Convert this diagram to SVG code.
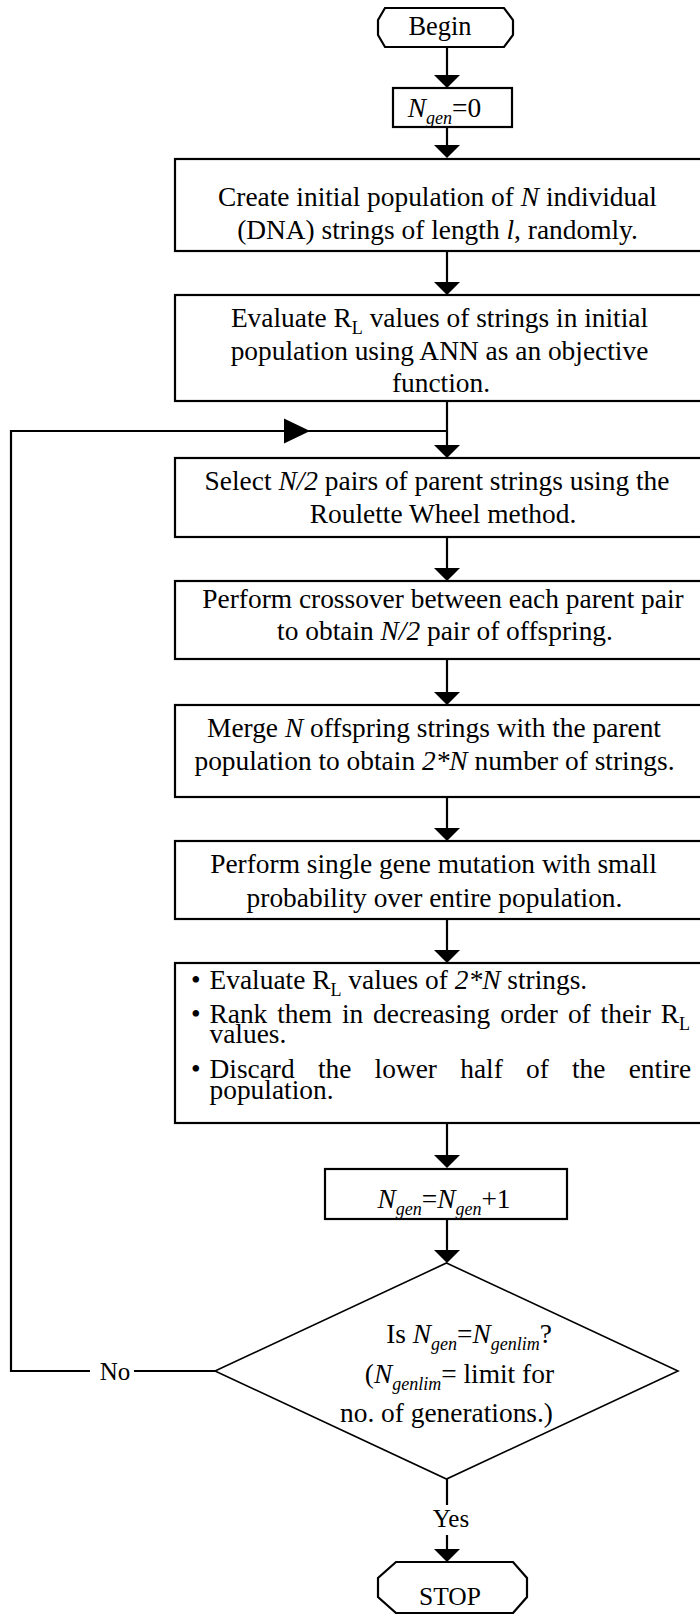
<svg xmlns="http://www.w3.org/2000/svg" width="700" height="1614" viewBox="0 0 700 1614">
  <style>
    .box { fill: #fff; stroke: #000; stroke-width: 2.2; }
    .dia { fill: #fff; stroke: #000; stroke-width: 1.6; }
    .ln { fill: none; stroke: #000; stroke-width: 2.2; }
    .t { font-family: "Liberation Serif", "Times New Roman", serif; font-size: 27.4px; fill: #000; }
    .c { text-anchor: middle; }
    .e { text-anchor: end; }
    .i { font-style: italic; }
    .s { font-size: 18px; }
    .lbl { font-family: "Liberation Serif", "Times New Roman", serif; font-size: 25px; fill: #000; }
  </style>
  <defs>
    <path id="ahd" d="M-13,-13 L13,-13 L0,0 Z" fill="#000"/>
    <path id="ahr" d="M-26,-12.5 L-26,12.5 L0,0 Z" fill="#000"/>
  </defs>

  <!-- connectors -->
  <g id="connectors">
    <path class="ln" d="M447,47 V77"/>
    <use href="#ahd" x="447" y="88"/>
    <path class="ln" d="M447,127 V146"/>
    <use href="#ahd" x="447" y="158"/>
    <path class="ln" d="M447,251 V283"/>
    <use href="#ahd" x="447" y="295"/>
    <path class="ln" d="M447,401 V447"/>
    <use href="#ahd" x="447" y="458"/>
    <path class="ln" d="M447,537 V570"/>
    <use href="#ahd" x="447" y="581"/>
    <path class="ln" d="M447,659 V694"/>
    <use href="#ahd" x="447" y="705"/>
    <path class="ln" d="M447,797 V830"/>
    <use href="#ahd" x="447" y="841"/>
    <path class="ln" d="M447,919 V952"/>
    <use href="#ahd" x="447" y="963"/>
    <path class="ln" d="M447,1123 V1157"/>
    <use href="#ahd" x="447" y="1168"/>
    <path class="ln" d="M447,1219 V1252"/>
    <use href="#ahd" x="447" y="1263"/>
    <!-- Yes branch -->
    <path class="ln" d="M447,1479 V1505"/>
    <path class="ln" d="M447,1535 V1551"/>
    <use href="#ahd" x="447" y="1562"/>
    <text class="lbl c" x="451" y="1527">Yes</text>
    <!-- No branch: loop back to selection -->
    <path class="ln" d="M215,1371 H134"/>
    <path class="ln" d="M90,1371 H11 V431 H447"/>
    <use href="#ahr" x="310" y="431"/>
    <text class="lbl c" x="115" y="1380">No</text>
  </g>

  <g id="begin">
    <polygon class="box" points="385,8 504,8 513,20 513,35 504,47 385,47 378,35 378,20"/>
    <text class="t c" x="440" y="35" style="font-size:26.4px">Begin</text>
  </g>

  <g id="init-gen">
    <rect class="box" x="393" y="88" width="119" height="39"/>
    <text class="t c" x="444.5" y="117"><tspan class="i">N</tspan><tspan class="i s" dy="7">gen</tspan><tspan dy="-7">=0</tspan></text>
  </g>

  <g id="create">
    <rect class="box" x="175" y="159" width="545" height="92"/>
    <text class="t c" x="437.5" y="206">Create initial population of <tspan class="i">N</tspan> individual</text>
    <text class="t c" x="437.5" y="239">(DNA) strings of length <tspan class="i">l</tspan>, randomly.</text>
  </g>

  <g id="evaluate">
    <rect class="box" x="175" y="295" width="545" height="106"/>
    <text class="t c" x="439.5" y="327">Evaluate R<tspan class="s" dy="7">L</tspan><tspan dy="-7"> values of strings in initial</tspan></text>
    <text class="t c" x="439.5" y="360">population using ANN as an objective</text>
    <text class="t c" x="441" y="392">function.</text>
  </g>

  <g id="select">
    <rect class="box" x="175" y="458" width="545" height="79"/>
    <text class="t c" x="437" y="490">Select <tspan class="i">N/2</tspan> pairs of parent strings using the</text>
    <text class="t c" x="443" y="523">Roulette Wheel method.</text>
  </g>

  <g id="crossover">
    <rect class="box" x="175" y="581" width="545" height="78"/>
    <text class="t c" x="443" y="608">Perform crossover between each parent pair</text>
    <text class="t c" x="445" y="640">to obtain <tspan class="i">N/2</tspan> pair of offspring.</text>
  </g>

  <g id="merge">
    <rect class="box" x="175" y="705" width="545" height="92"/>
    <text class="t c" x="434" y="737">Merge <tspan class="i">N</tspan> offspring strings with the parent</text>
    <text class="t c" x="434.5" y="770">population to obtain <tspan class="i">2*N</tspan> number of strings.</text>
  </g>

  <g id="mutation">
    <rect class="box" x="175" y="841" width="545" height="78"/>
    <text class="t c" x="433.5" y="873">Perform single gene mutation with small</text>
    <text class="t c" x="434.5" y="907">probability over entire population.</text>
  </g>

  <g id="rank">
    <rect class="box" x="175" y="963" width="545" height="160"/>
    <text class="t" x="191" y="989">•</text>
    <text class="t" x="209.5" y="989">Evaluate R<tspan class="s" dy="7">L</tspan><tspan dy="-7"> values of </tspan><tspan class="i">2*N</tspan> strings.</text>
    <text class="t" x="191" y="1023">•</text>
    <text class="t" y="1023"><tspan x="209.5">Rank</tspan><tspan x="277.2">them</tspan><tspan x="341.9">in</tspan><tspan x="373.1">decreasing</tspan><tspan x="500.2">order</tspan><tspan x="567.9">of</tspan><tspan x="600.6">their</tspan><tspan x="660.7">R</tspan><tspan class="s" dy="7">L</tspan></text>
    <text class="t" x="209.5" y="1043">values.</text>
    <text class="t" x="191" y="1078">•</text>
    <text class="t" y="1078"><tspan x="209.5">Discard</tspan><tspan x="317.9">the</tspan><tspan x="374.6">lower</tspan><tspan x="460.2">half</tspan><tspan x="526">of</tspan><tspan x="572">the</tspan><tspan x="628.7">entire</tspan></text>
    <text class="t" x="209.5" y="1099">population.</text>
  </g>

  <g id="next-gen">
    <rect class="box" x="325" y="1169" width="242" height="50"/>
    <text class="t c" x="444" y="1208"><tspan class="i">N</tspan><tspan class="i s" dy="7">gen</tspan><tspan dy="-7">=</tspan><tspan class="i">N</tspan><tspan class="i s" dy="7">gen</tspan><tspan dy="-7">+1</tspan></text>
  </g>

  <g id="decision">
    <polygon class="dia" points="446.5,1263 678,1371 446.5,1479 215,1371"/>
    <text class="t e" x="552" y="1343">Is <tspan class="i">N</tspan><tspan class="i s" dy="7">gen</tspan><tspan dy="-7">=</tspan><tspan class="i">N</tspan><tspan class="i s" dy="7">genlim</tspan><tspan dy="-7">?</tspan></text>
    <text class="t e" x="554" y="1383">(<tspan class="i">N</tspan><tspan class="i s" dy="7">genlim</tspan><tspan dy="-7">= limit for</tspan></text>
    <text class="t e" x="553" y="1422">no. of generations.)</text>
  </g>

  <g id="stop">
    <polygon class="box" points="396,1562 513,1562 527,1578 527,1597 513,1613 396,1613 378,1597 378,1578"/>
    <text class="t c" x="450" y="1605" style="font-size:25.5px">STOP</text>
  </g>
</svg>
